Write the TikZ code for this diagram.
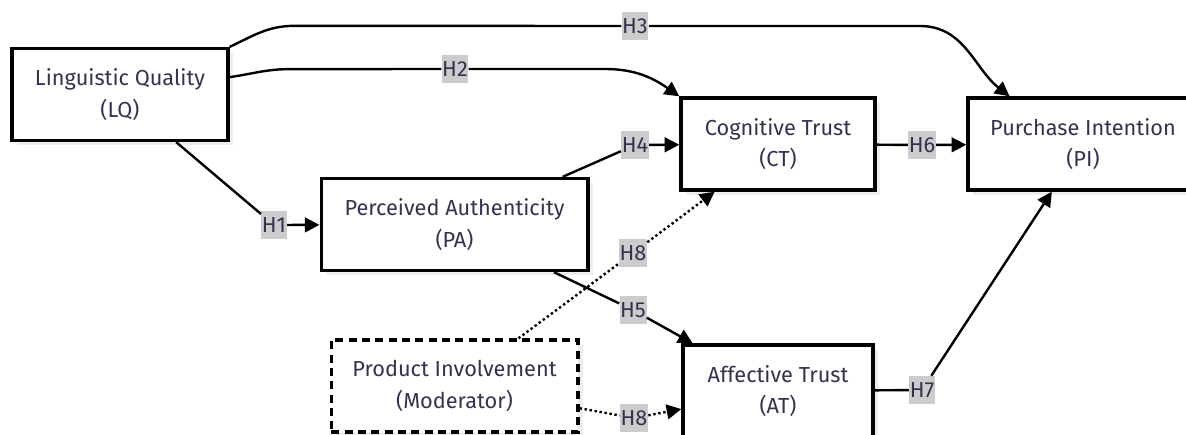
\documentclass[tikz,border=0pt]{standalone}
\usepackage{fontspec}
\setmainfont{Fira Sans}
\usepackage{xcolor}
\usetikzlibrary{arrows.meta,shadows}

\definecolor{textnavy}{HTML}{333350}
\definecolor{labelgray}{HTML}{CCCCCC}

\begin{document}
\begin{tikzpicture}[
    x=0.75pt, y=0.75pt,
    box/.style={
        rectangle, draw=black, line width=2.5pt, fill=white,
        minimum height=69pt, align=center, text=textnavy,
        font=\fontsize{16.3}{23.5}\selectfont,
        drop shadow={shadow xshift=3.5pt, shadow yshift=-3.5pt,
                     fill=black!7, opacity=1}
    },
    modbox/.style={box, dash pattern=on 6pt off 4pt},
    hyp/.style={
        fill=labelgray, text=textnavy, font=\fontsize{16.3}{18}\selectfont,
        inner xsep=0.5pt, inner ysep=0pt, minimum height=21pt
    },
    link/.style={line width=1.8pt},
    arrow/.style={link, -{Triangle[length=11pt,width=11pt]}},
    modlink/.style={link, dash pattern=on 1.8pt off 2pt},
    modarrow/.style={arrow, dash pattern=on 1.8pt off 2pt}
]
\useasboundingbox (0,0) rectangle (1186,-435);

% constructs
\node[box, minimum width=162pt]   (lq)  at (120,-94.5)  {Linguistic Quality\\(LQ)};
\node[box, minimum width=200pt]   (pa)  at (454.5,-224.5) {Perceived Authenticity\\(PA)};
\node[box, minimum width=145.5pt] (ct)  at (778,-144)   {Cognitive Trust\\(CT)};
\node[box, minimum width=172.5pt] (pi)  at (1083,-144)  {Purchase Intention\\(PI)};
\node[box, minimum width=142.5pt] (at)  at (778,-391)   {Affective Trust\\(AT)};
\node[modbox, minimum width=185pt] (mod) at (454.5,-386) {Product Involvement\\(Moderator)};

% hypothesis labels
\node[hyp] (h1)  at (274,-225) {H1};
\node[hyp] (h2)  at (455,-69)  {H2};
\node[hyp] (h3)  at (635,-26)  {H3};
\node[hyp] (h4)  at (635,-145) {H4};
\node[hyp] (h5)  at (633,-310) {H5};
\node[hyp] (h6)  at (922,-145) {H6};
\node[hyp] (h7)  at (922,-390) {H7};
\node[hyp] (h8a) at (633,-253) {H8};
\node[hyp] (h8b) at (634,-418) {H8};

% paths
\draw[link]  (lq) -- (h1);
\draw[arrow] (h1) -- (pa);
\draw[link]  (lq.9) to[out=8,in=180] ++(60,8) -- (h2);
\draw[arrow] (h2) -- ++(150,0) to[out=0,in=145] (ct.north west);
\draw[link]  (lq.north east) to[out=25,in=180] ++(65,21) -- (h3);
\draw[arrow] (h3) -- ++(285,0) to[out=0,in=142] (pi.147);
\draw[link]  (pa) -- (h4);
\draw[arrow] (h4) -- (ct);
\draw[link]  (pa) -- (h5);
\draw[arrow] (h5) -- (at);
\draw[link]  (ct) -- (h6);
\draw[arrow] (h6) -- (pi);
\draw[link]  (at) -- (h7);
\draw[arrow] (h7) -- (pi);

% moderation
\draw[modlink]  (mod) -- (h8a);
\draw[modarrow] (h8a) -- (ct);
\draw[modlink]  (mod) -- (h8b);
\draw[modarrow] (h8b) -- (at);
\end{tikzpicture}
\end{document}
